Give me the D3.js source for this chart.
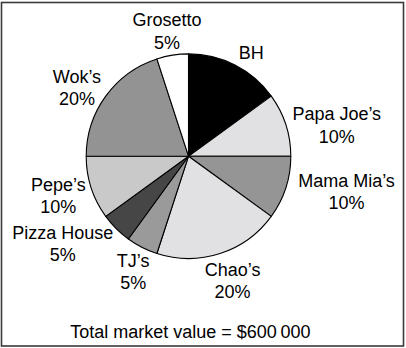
<!DOCTYPE html>
<html>
<head>
<meta charset="utf-8">
<script src="https://cdn.jsdelivr.net/npm/d3@7"></script>
<style>
  html, body { margin: 0; padding: 0; background: #fff; }
  svg { display: block; }
  text { font-family: "Liberation Sans", Arial, sans-serif; font-size: 18px; fill: #000; }
</style>
</head>
<body>
<svg id="chart" width="406" height="348"></svg>
<script>
// Market share by restaurant, clockwise from 12 o'clock
const restaurants = ["BH", "Papa Joe’s", "Mama Mia’s", "Chao’s", "TJ’s", "Pizza House", "Pepe’s", "Wok’s", "Grosetto"];
const shares = [15, 10, 10, 20, 5, 5, 10, 20, 5];
const showPercent = [false, true, true, true, true, true, true, true, true];
const fills = ["#000000", "#e1e1e3", "#959595", "#e1e1e3", "#9a9a9a", "#464646", "#c9c9c9", "#939393", "#ffffff"];
const totalValue = 600000;

// Label placement: distance from centre and angular nudge (degrees) off each slice's mid-angle
const labelDist = [121, 151.5, 162, 132, 128, 153, 136, 131, 127];
const labelNudge = [4.3, 6.1, -5.3, -1.5, -1.4, 10.3, 1.2, -4.4, -0.7];

const svg = d3.select("#chart");
const W = 406, H = 348;
const cx = 188.5, cy = 156.2, radius = 102.3;
const lineGap = 22.4, capH = 12.9;

// Frame
svg.append("rect")
  .attr("x", 1.5).attr("y", 2.5)
  .attr("width", W - 4).attr("height", H - 4.5)
  .attr("fill", "none").attr("stroke", "#3a3a3a").attr("stroke-width", 1.6);

const pie = d3.pie().sort(null).value(d => d.share);
const data = restaurants.map((name, i) => ({ name, share: shares[i], fill: fills[i], pct: showPercent[i], i }));
const arcs = pie(data);
const arc = d3.arc().innerRadius(0).outerRadius(radius);

const g = svg.append("g").attr("transform", `translate(${cx},${cy})`);

g.selectAll("path.slice")
  .data(arcs)
  .enter().append("path")
  .attr("class", "slice")
  .attr("d", arc)
  .attr("fill", d => d.data.fill)
  .attr("stroke", "#000")
  .attr("stroke-width", 1.1)
  .attr("stroke-linejoin", "round");

// Labels: name, with the share on a second line where shown
g.selectAll("text.lbl")
  .data(arcs)
  .enter().append("text")
  .attr("class", "lbl")
  .attr("text-anchor", "middle")
  .each(function (d) {
    const i = d.data.i;
    const a = (d.startAngle + d.endAngle) / 2 + labelNudge[i] * Math.PI / 180;
    const r = labelDist[i];
    const x = r * Math.sin(a);
    const y = -r * Math.cos(a);
    const t = d3.select(this);
    if (d.data.pct) {
      const first = y + capH - (capH + lineGap) / 2; // baseline of first line, block centred on (x, y)
      t.append("tspan").attr("x", x).attr("y", first).text(d.data.name);
      t.append("tspan").attr("x", x).attr("y", first + lineGap).text(d.data.share + "%");
    } else {
      t.append("tspan").attr("x", x).attr("y", y + capH / 2).text(d.data.name);
    }
  });

// Footer
const fmt = v => "$" + d3.format(",")(v).replace(/,/g, "\u2009");
svg.append("text")
  .attr("x", 190.3).attr("y", 337.7)
  .attr("text-anchor", "middle")
  .text("Total market value = " + fmt(totalValue));
</script>
</body>
</html>
